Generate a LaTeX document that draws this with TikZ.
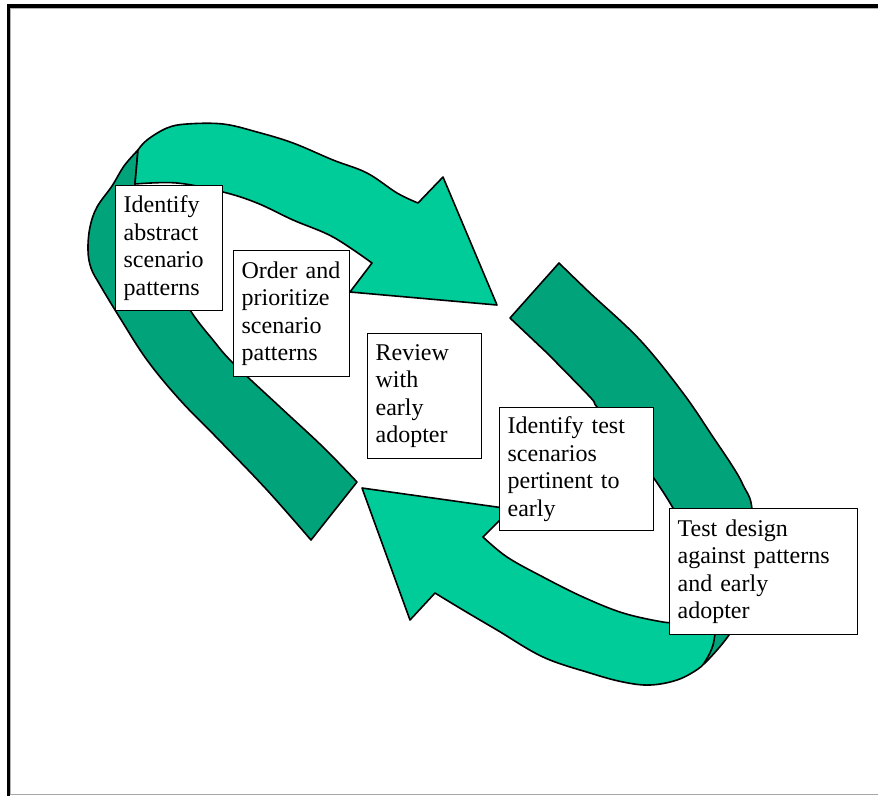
\documentclass[tikz,border=0pt]{standalone}
\usepackage{fontspec}
\setmainfont{Liberation Serif}
\definecolor{lightg}{HTML}{00CC99}
\definecolor{darkg}{HTML}{00A37A}
\begin{document}
\begin{tikzpicture}[x=1pt,y=-1pt,
  band/.style={draw=black, line width=1.6pt, line join=round},
  lightband/.style={band, fill=lightg},
  darkband/.style={band, fill=darkg},
  txtbox/.style={draw=black, line width=1.3pt, fill=white, anchor=north west,
    inner xsep=8pt, inner ysep=0pt, align=left,
    font=\fontsize{24}{27.6}\selectfont},
  smoothline/.style={smooth, tension=0.6}]
\useasboundingbox (0,0) rectangle (878,796);
% frame
\fill[black] (7,4) rectangle (878,7.5);
\fill[black] (7,4) rectangle (10.3,796);
\draw[gray!60, line width=1pt] (11,8.3) -- (878,8.3);
\draw[gray!60, line width=1pt] (10.8,8) -- (10.8,794);
\draw[gray!70, line width=1.5pt] (10,794.5) -- (878,794.5);
% left dark band
\draw[darkband] plot[smoothline] coordinates {(138,150) (124,166) (112,186) (97,207) (90,227) (88,250) (91,268) (100,285) (120,318) (147,360) (180,400) (220,441) (267,490) (311,540)}
  -- plot[smoothline] coordinates {(357,482) (323,447) (280,407) (233,363) (213,340) (190,310) (160,258) (141,212) (135,184)} -- cycle;
% right dark band
\draw[darkband] (510,318) -- plot[smoothline] coordinates {(559,263) (590,293) (640,340) (683,393) (713,437) (733,467) (743,485) (752,510) (748,570) (735,625) (704,664)}
  -- plot[smoothline] coordinates {(712,640) (705,580) (690,540) (673,508) (653,477) (625,440) (597,407) (590,397) (547,353)} -- cycle;
% upper light arrow
\draw[lightband] (138,150) -- plot[smoothline] coordinates {(135,184) (177,183) (223,192) (257,203) (293,220) (333,237) (372,263)}
  -- (350,292) -- (497,305) -- (443,177)
  -- plot[smoothline] coordinates {(418,203) (397,193) (367,173) (333,160) (293,143) (257,132) (223,124) (187,124) (167,128) (147,140) (138,150)} -- cycle;
% lower light arrow
\draw[lightband] (362,488) -- (511,509)
  -- plot[smoothline] coordinates {(483,537) (507,557) (543,577) (583,597) (623,613) (663,622) (675,622)}
  -- (705,600)
  -- plot[smoothline] coordinates {(716,625) (713,645) (706,660) (698,669) (677,680) (650,685) (623,682) (590,673) (543,657) (497,630) (463,610) (435,593)}
  -- (410,620) -- cycle;
% boxes
\node[txtbox, text width=91pt, minimum height=125pt] (b1) at (115,185) {Identify\\abstract\\scenario\\patterns};
\node[txtbox, text width=100pt, minimum height=126pt] (b2) at (233,250) {Order and\\prioritize\\scenario\\patterns};
\node[txtbox, text width=98pt, minimum height=125pt] (b3) at (367,333) {Review\\with\\early\\adopter};
\node[txtbox, text width=138pt, minimum height=123pt] (b4) at (499,407) {Identify test\\scenarios\\pertinent to\\early};
\node[txtbox, text width=172pt, minimum height=126pt] (b5) at (669,508) {Test design\\against patterns\\and early\\adopter};
\end{tikzpicture}
\end{document}
